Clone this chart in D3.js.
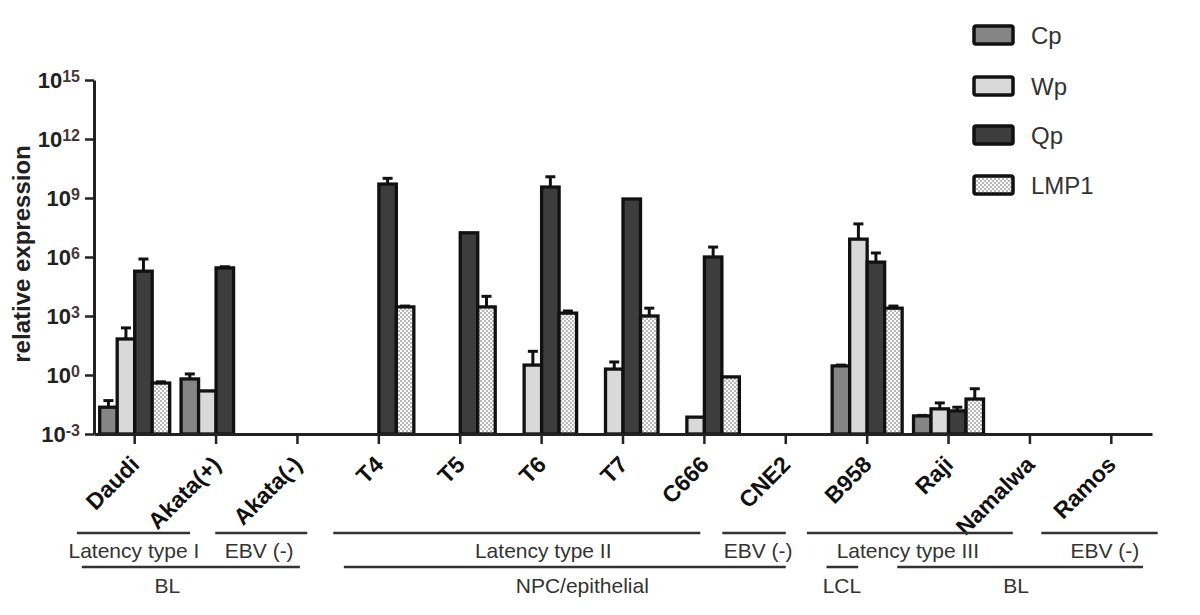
<!DOCTYPE html>
<html>
<head>
<meta charset="utf-8">
<script src="https://cdn.jsdelivr.net/npm/d3@7"></script>
<style>
  body { margin: 0; background: #fff; }
  text { font-family: "Liberation Sans", Arial, sans-serif; }
</style>
</head>
<body>
<div id="chart"></div>
<script>
// data (null = no bar)
const cellLines = ["Daudi", "Akata(+)", "Akata(-)", "T4", "T5", "T6", "T7", "C666", "CNE2", "B958", "Raji", "Namalwa", "Ramos"];
const seriesNames = ["Cp", "Wp", "Qp", "LMP1"];

const cpValues   = [0.023, 0.63, null, null, null, null, null, null, null, 2.9, 0.0083, null, null];
const cpErrors   = [0.027, 0.5, null, null, null, null, null, null, null, 0.3, 0.0005, null, null];
const wpValues   = [68, 0.155, null, null, null, 3.2, 2.0, 0.0072, null, 8.1e6, 0.019, null, null];
const wpErrors   = [180, 0, null, null, null, 12.8, 2.6, 0, null, 4e7, 0.019, null, null];
const qpValues   = [1.9e5, 2.8e5, null, 5.1e9, 1.7e7, 3.6e9, 8.9e8, 1e6, null, 5.5e5, 0.015, null, null];
const qpErrors   = [6e5, 0.4e5, null, 4.9e9, 0, 8.4e9, 0, 2.2e6, null, 1.05e6, 0.008, null, null];
const lmp1Values = [0.39, null, null, 2900, 2900, 1400, 1000, 0.8, null, 2500, 0.06, null, null];
const lmp1Errors = [0.06, null, null, 300, 7100, 400, 1500, 0, null, 700, 0.14, null, null];

const yTickValues = [1e-3, 1e0, 1e3, 1e6, 1e9, 1e12, 1e15];
const yTickExponents = ["-3", "0", "3", "6", "9", "12", "15"];

// bracket annotations under the axis, spans in category units (0 = left edge of first band)
const latencyGroups = [
  { label: "Latency type I",   from: -0.21, to: 1.18,  at: 0.49 },
  { label: "EBV (-)",          from: 1.49,  to: 2.62,  at: 2.03 },
  { label: "Latency type II",  from: 2.94,  to: 7.45,  at: 5.52 },
  { label: "EBV (-)",          from: 7.72,  to: 8.50,  at: 8.16 },
  { label: "Latency type III", from: 8.76,  to: 11.29, at: 10.0 },
  { label: "EBV (-)",          from: 11.64, to: 13.07, at: 12.42 }
];
const originGroups = [
  { label: "BL",             from: -0.15, to: 2.53,  at: 0.90 },
  { label: "NPC/epithelial", from: 3.07,  to: 8.50,  at: 6.0 },
  { label: "LCL",            from: 9.0,   to: 9.39,  at: 9.19 },
  { label: "BL",             from: 9.87,  to: 12.89, at: 11.33 }
];

const seriesValues = [cpValues, wpValues, qpValues, lmp1Values];
const seriesErrors = [cpErrors, wpErrors, qpErrors, lmp1Errors];
const seriesFill = ["#858585", "#d9d9d9", "#3d3d3d", "url(#dots)"];

const width = 1200, height = 615;
const plot = { left: 94, right: 1152, top: 80, bottom: 434 };

const svg = d3.select("#chart").append("svg")
  .attr("width", width)
  .attr("height", height);

// dotted fill for LMP1
const pat = svg.append("defs").append("pattern")
  .attr("id", "dots")
  .attr("patternUnits", "userSpaceOnUse")
  .attr("width", 4).attr("height", 4);
pat.append("rect").attr("width", 4).attr("height", 4).attr("fill", "#fafafa");
pat.append("circle").attr("cx", 1).attr("cy", 1).attr("r", 0.9).attr("fill", "#9a9a9a");
pat.append("circle").attr("cx", 3).attr("cy", 3).attr("r", 0.9).attr("fill", "#9a9a9a");

const x = d3.scaleBand()
  .domain(cellLines)
  .range([plot.left, plot.right]);

const xInner = d3.scaleBand()
  .domain(seriesNames)
  .range([-35, 35]);

const y = d3.scaleLog()
  .domain([1e-3, 1e15])
  .range([plot.bottom, plot.top]);

// category units -> pixels
const xUnit = d3.scaleLinear()
  .domain([0, cellLines.length])
  .range([plot.left, plot.right]);

// flatten bars
const bars = [];
seriesNames.forEach((s, si) => {
  cellLines.forEach((c, ci) => {
    const v = seriesValues[si][ci];
    if (v == null) return;
    bars.push({ cell: c, series: s, si: si, value: v, err: seriesErrors[si][ci] || 0 });
  });
});

const barG = svg.append("g").attr("class", "bars");

barG.selectAll("rect")
  .data(bars)
  .enter()
  .append("rect")
  .attr("x", d => x(d.cell) + x.bandwidth() / 2 + xInner(d.series))
  .attr("y", d => y(d.value))
  .attr("width", xInner.bandwidth())
  .attr("height", d => y(1e-3) - y(d.value))
  .attr("fill", d => seriesFill[d.si])
  .attr("stroke", "#111")
  .attr("stroke-width", 3.3);

// error bars (upper only)
const errG = svg.append("g").attr("class", "errors");
bars.filter(d => d.err > 0).forEach(d => {
  const cx = x(d.cell) + x.bandwidth() / 2 + xInner(d.series) + xInner.bandwidth() / 2;
  const y0 = y(d.value);
  const y1 = y(d.value + d.err);
  errG.append("line")
    .attr("x1", cx).attr("x2", cx)
    .attr("y1", y0).attr("y2", y1)
    .attr("stroke", "#111").attr("stroke-width", 3);
  errG.append("line")
    .attr("x1", cx - 5).attr("x2", cx + 5)
    .attr("y1", y1).attr("y2", y1)
    .attr("stroke", "#111").attr("stroke-width", 3);
});

// y axis
const yAxis = svg.append("g")
  .attr("transform", `translate(${plot.left},0)`)
  .call(d3.axisLeft(y).tickValues(yTickValues).tickFormat("").tickSize(9).tickSizeOuter(0));
yAxis.select(".domain").attr("stroke", "#222").attr("stroke-width", 3);
yAxis.selectAll(".tick line").attr("stroke", "#222").attr("stroke-width", 2.5);

const yLabels = svg.append("g").attr("class", "y-labels");
yTickValues.forEach((t, i) => {
  const txt = yLabels.append("text")
    .attr("x", plot.left - 14)
    .attr("y", y(t))
    .attr("dy", "0.36em")
    .attr("text-anchor", "end")
    .attr("fill", "#222")
    .style("font-weight", "bold")
    .style("font-size", "22px");
  txt.append("tspan").text("10");
  txt.append("tspan")
    .attr("dy", "-0.4em")
    .style("font-size", "16px")
    .attr("fill", "#4a3535")
    .text(yTickExponents[i]);
});

svg.append("text")
  .attr("transform", `translate(30, ${(plot.top + plot.bottom) / 2 - 3}) rotate(-90)`)
  .attr("text-anchor", "middle")
  .attr("fill", "#222")
  .style("font-weight", "bold")
  .style("font-size", "24px")
  .text("relative expression");

// x axis
const xAxis = svg.append("g")
  .attr("transform", `translate(0,${plot.bottom})`)
  .call(d3.axisBottom(x).tickFormat("").tickSize(10).tickSizeOuter(0));
xAxis.select(".domain").attr("stroke", "#222").attr("stroke-width", 3);
xAxis.selectAll(".tick line").attr("stroke", "#222").attr("stroke-width", 2.5);

svg.append("g").attr("class", "x-labels")
  .selectAll("text")
  .data(cellLines)
  .enter()
  .append("text")
  .attr("transform", d => `translate(${x(d) + x.bandwidth() / 2 + 6}, 466) rotate(-45)`)
  .attr("text-anchor", "end")
  .attr("fill", "#111")
  .style("font-weight", "bold")
  .style("font-size", "23px")
  .text(d => d);

// group brackets
function drawBrackets(groups, lineY, textY) {
  const g = svg.append("g");
  g.selectAll("line")
    .data(groups)
    .enter()
    .append("line")
    .attr("x1", d => xUnit(d.from))
    .attr("x2", d => xUnit(d.to))
    .attr("y1", lineY).attr("y2", lineY)
    .attr("stroke", "#333")
    .attr("stroke-width", 2.5);
  g.selectAll("text")
    .data(groups)
    .enter()
    .append("text")
    .attr("x", d => xUnit(d.at))
    .attr("y", textY)
    .attr("text-anchor", "middle")
    .attr("fill", "#333")
    .style("font-size", "21px")
    .text(d => d.label);
}
drawBrackets(latencyGroups, 533, 558);
drawBrackets(originGroups, 567, 593);

// legend
const legend = svg.append("g").attr("class", "legend");
const legendY = [35, 86, 135, 185];
seriesNames.forEach((s, i) => {
  legend.append("rect")
    .attr("x", 974).attr("y", legendY[i] - 9)
    .attr("width", 39).attr("height", 18)
    .attr("rx", 2)
    .attr("fill", seriesFill[i])
    .attr("stroke", "#111")
    .attr("stroke-width", 3.5);
  legend.append("text")
    .attr("x", 1031).attr("y", legendY[i])
    .attr("dy", "0.36em")
    .attr("fill", "#333")
    .style("font-size", "24px")
    .text(s);
});
</script>
</body>
</html>
